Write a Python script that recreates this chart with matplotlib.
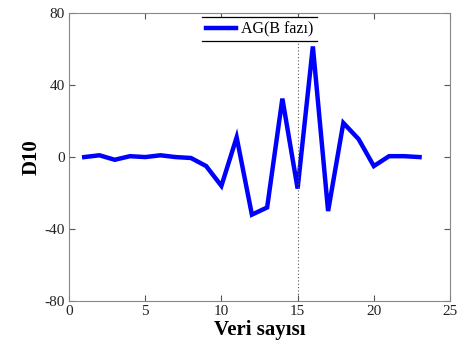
import matplotlib
matplotlib.use("Agg")
import matplotlib.pyplot as plt
from matplotlib.lines import Line2D

x = list(range(1, 24))
d10 = [0, 1, -1.5, 0.5, 0, 1, 0, -0.5, -5, -16, 11, -32, -28, 32.5, -17.5, 61.5,
       -30, 19, 10, -5, 0.5, 0.5, 0]
vline_x = 15
xticks = [0, 5, 10, 15, 20, 25]
yticks = [-80, -40, 0, 40, 80]

plt.rcParams['font.family'] = ['Liberation Serif', 'DejaVu Serif']
plt.rcParams['axes.unicode_minus'] = False

fig = plt.figure(figsize=(4.63, 3.46), dpi=100)
ax = fig.add_axes([0.149, 0.130, 0.823, 0.832])
ax.plot(x, d10, color='#0000ff', lw=3.2, label='AG(B fazı)', solid_joinstyle='miter')
ax.axvline(vline_x, color='#555555', lw=0.8, ls=(0, (1, 2)))
ax.set_xlim(0, 25)
ax.set_ylim(-80, 80)
ax.set_xticks(xticks)
ax.set_yticks(yticks)
ax.tick_params(direction='in', top=True, right=True, labelsize=11, length=4,
               color='#555555', labelcolor='#222222', pad=3)
for s in ax.spines.values():
    s.set_color('#888888')
    s.set_linewidth(0.8)
ax.set_xlabel('Veri sayısı', fontsize=15, fontweight='bold', labelpad=1)
ax.set_ylabel('D10', fontsize=15, fontweight='bold', labelpad=2)
leg = ax.legend(loc='upper center', bbox_to_anchor=(0.5, 0.985), fontsize=11.5,
                fancybox=False, framealpha=1, edgecolor='none', handlelength=1.9,
                borderpad=0.25, handletextpad=0.3, borderaxespad=0)

fig.canvas.draw()
bb = leg.get_window_extent().transformed(fig.transFigure.inverted())
for yy in (bb.y0, bb.y1):
    fig.add_artist(Line2D([bb.x0, bb.x1], [yy, yy], color='black', lw=0.9,
                          transform=fig.transFigure, zorder=10))
fig.savefig('out.png', dpi=100)
